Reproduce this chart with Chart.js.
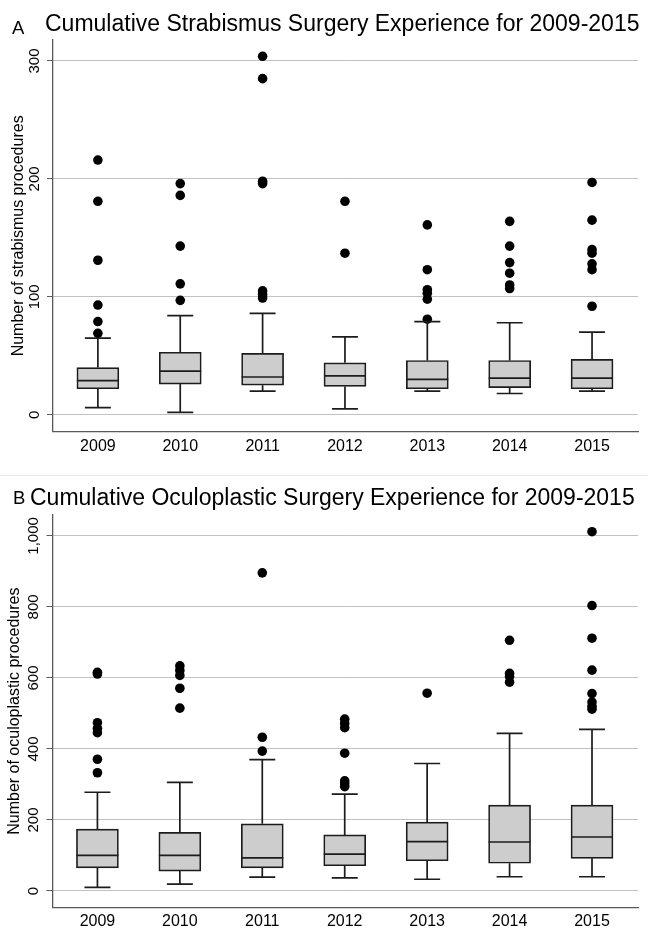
<!DOCTYPE html>
<html>
<head>
<meta charset="utf-8">
<script src="https://cdn.jsdelivr.net/npm/chart.js@4.4.1/dist/chart.umd.min.js"></script>
<style>
  body { margin: 0; background: #fff; width: 648px; height: 930px; position: relative; overflow: hidden;
         font-family: "Liberation Sans", Arial, sans-serif; }
  canvas { position: absolute; left: 0; }
  .ttl { position: absolute; white-space: nowrap; line-height: 1; color: #000; }
  .big { font-size: 23px; }
  .tag { font-size: 18.5px; }
  #sep { position: absolute; left: 0; top: 475px; width: 648px; height: 1px; background: #e2e9eb; }
</style>
</head>
<body>
<canvas id="chartA" width="648" height="476" style="top:0"></canvas>
<canvas id="chartB" width="648" height="454" style="top:476px"></canvas>
<div id="sep"></div>
<div class="ttl tag" style="left:12px; top:19px">A</div>
<div class="ttl big" style="left:45px; top:12px">Cumulative Strabismus Surgery Experience for 2009-2015</div>
<div class="ttl tag" style="left:13px; top:489px">B</div>
<div class="ttl big" style="left:30px; top:486px">Cumulative Oculoplastic Surgery Experience for 2009-2015</div>
<script>
const years = ['2009', '2010', '2011', '2012', '2013', '2014', '2015'];

// A: strabismus procedures
const strabLo  = [6, 2, 20, 5, 20, 18, 20];
const strabQ1  = [22, 26, 25, 24, 22, 23, 22];
const strabMed = [29, 37, 32, 33, 30, 31, 31];
const strabQ3  = [40, 53, 52, 44, 46, 46, 47];
const strabHi  = [65, 84, 86, 66, 79, 78, 70];
const strabOut = [
  [216, 181, 131, 93, 79, 69],
  [196, 186, 143, 111, 97],
  [304, 285, 198, 196, 105, 102, 99],
  [181, 137],
  [161, 123, 106, 103, 98, 81],
  [164, 143, 129, 120, 110, 107],
  [197, 165, 140, 137, 128, 123, 92]
];
const strabTicks = [0, 100, 200, 300];

// B: oculoplastic procedures
const ocuLo  = [10, 19, 39, 37, 33, 40, 40];
const ocuQ1  = [65, 56, 65, 71, 85, 78, 92];
const ocuMed = [100, 100, 93, 104, 139, 138, 152];
const ocuQ3  = [174, 165, 189, 158, 194, 242, 242];
const ocuHi  = [278, 306, 370, 273, 359, 444, 455];
const ocuOut = [
  [616, 611, 474, 458, 446, 371, 333],
  [634, 621, 607, 571, 515],
  [896, 433, 394],
  [484, 472, 460, 388, 310, 302, 294],
  [557],
  [706, 613, 604, 588],
  [1012, 804, 712, 622, 556, 532, 520, 512]
];
const ocuTicks = [0, 200, 400, 600, 800, 1000];

const FONT = '"Liberation Sans", Arial, sans-serif';
const INK = '#1c1c1c';

function boxChart(id, o) {
  const boxes = years.map((_, i) => ({ x: i + 1, y: [o.q1[i], o.q3[i]] }));
  const outPts = [];
  o.out.forEach((list, i) => list.forEach(v => outPts.push({ x: i + 1, y: v })));

  // whiskers, caps and medians, drawn right after the boxes
  const whiskers = {
    id: 'whiskers',
    afterDatasetDraw(chart, args) {
      if (args.index !== 0) return;
      const { ctx, scales: { x, y } } = chart;
      ctx.save();
      ctx.strokeStyle = INK;
      ctx.lineWidth = 1.7;
      years.forEach((_, i) => {
        const cx = x.getPixelForValue(i + 1);
        const yLo = y.getPixelForValue(o.lo[i]), yHi = y.getPixelForValue(o.hi[i]);
        const yQ1 = y.getPixelForValue(o.q1[i]), yQ3 = y.getPixelForValue(o.q3[i]);
        const yMd = y.getPixelForValue(o.med[i]);
        ctx.beginPath();
        ctx.moveTo(cx, yQ3); ctx.lineTo(cx, yHi);
        ctx.moveTo(cx - 13, yHi); ctx.lineTo(cx + 13, yHi);
        ctx.moveTo(cx, yQ1); ctx.lineTo(cx, yLo);
        ctx.moveTo(cx - 13, yLo); ctx.lineTo(cx + 13, yLo);
        ctx.moveTo(cx - 21, yMd); ctx.lineTo(cx + 21, yMd);
        ctx.stroke();
      });
      ctx.restore();
    }
  };

  // vertical y tick labels, like the original
  const vLabels = {
    id: 'vLabels',
    afterDraw(chart) {
      const { ctx, scales: { y }, chartArea } = chart;
      ctx.save();
      ctx.fillStyle = '#000';
      ctx.font = '15px ' + FONT;
      ctx.textAlign = 'center';
      ctx.textBaseline = 'alphabetic';
      y.ticks.forEach(t => {
        ctx.save();
        ctx.translate(chartArea.left - 14.5, y.getPixelForValue(t.value));
        ctx.rotate(-Math.PI / 2);
        ctx.fillText(t.label, 0, 0);
        ctx.restore();
      });
      ctx.restore();
    }
  };

  return new Chart(document.getElementById(id), {
    type: 'bar',
    data: {
      datasets: [
        {
          data: boxes,
          backgroundColor: '#cdcdcd',
          borderColor: INK,
          borderWidth: 1.7,
          borderSkipped: false,
          barThickness: 42
        },
        {
          type: 'scatter',
          data: outPts,
          backgroundColor: '#000',
          borderWidth: 0,
          pointRadius: 4.8,
          pointHoverRadius: 4.8
        }
      ]
    },
    options: {
      responsive: false,
      animation: false,
      layout: { padding: { top: o.top, right: 10, left: 0, bottom: 0 } },
      plugins: { legend: { display: false }, tooltip: { enabled: false } },
      scales: {
        x: {
          type: 'linear',
          min: 0.455,
          max: 7.558,
          offset: false,
          afterBuildTicks: s => { s.ticks = years.map((_, i) => ({ value: i + 1 })); },
          afterFit: s => { s.height = o.xh; },
          grid: { display: false, drawTicks: false, tickLength: 0, offset: false },
          border: { display: true, color: '#5a5a5a', width: 1.3 },
          ticks: {
            callback: v => years[v - 1],
            autoSkip: false, maxRotation: 0,
            color: '#000', padding: 5,
            font: { size: 16, family: FONT }
          }
        },
        y: {
          min: o.min,
          max: o.max,
          afterBuildTicks: s => { s.ticks = o.ticks.map(v => ({ value: v })); },
          afterFit: s => { s.width = o.yw; },
          grid: { color: '#c2c2c2', lineWidth: 1, tickLength: 6, tickColor: '#5a5a5a' },
          border: { display: true, color: '#5a5a5a', width: 1.3 },
          ticks: { color: 'rgba(0,0,0,0)', font: { size: 15, family: FONT } },
          title: {
            display: true, text: o.title, color: '#000',
            font: { size: 16, family: FONT },
            padding: { top: o.tpad, bottom: 0 }
          }
        }
      }
    },
    plugins: [whiskers, vLabels]
  });
}

boxChart('chartA', {
  lo: strabLo, q1: strabQ1, med: strabMed, q3: strabQ3, hi: strabHi, out: strabOut,
  ticks: strabTicks, min: -14.4, max: 317.8,
  title: 'Number of strabismus procedures',
  top: 40, xh: 44.3, yw: 53, tpad: 9
});

boxChart('chartB', {
  lo: ocuLo, q1: ocuQ1, med: ocuMed, q3: ocuQ3, hi: ocuHi, out: ocuOut,
  ticks: ocuTicks, min: -46, max: 1059,
  title: 'Number of oculoplastic procedures',
  top: 39, xh: 22.7, yw: 52.5, tpad: 4.5
});
</script>
</body>
</html>
